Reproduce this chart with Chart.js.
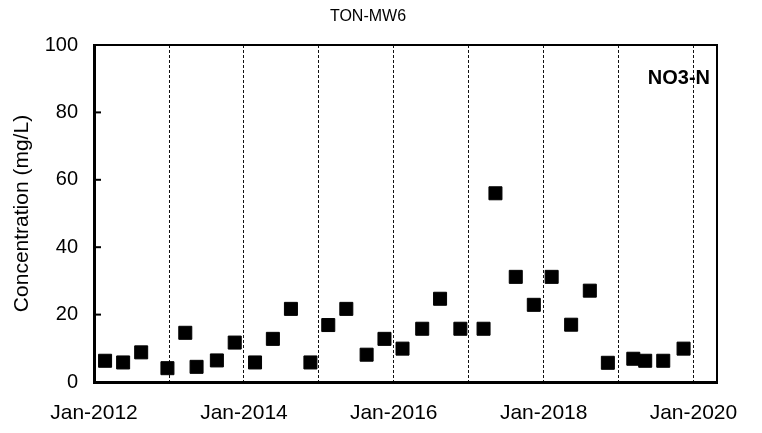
<!DOCTYPE html>
<html>
<head>
<meta charset="utf-8">
<script src="https://cdn.jsdelivr.net/npm/chart.js@4"></script>
<style>
  body { margin: 0; background: #fff; }
  #wrap { width: 762px; height: 433px; }
</style>
</head>
<body>
<div id="wrap"><canvas id="no3-chart"></canvas></div>
<script>
// sample dates and NO3-N concentrations (mg/L)
const sampleDates = [
  '2012-02-24', '2012-05-22', '2012-08-18', '2012-12-24',
  '2013-03-21', '2013-05-15', '2013-08-22', '2013-11-17',
  '2014-02-24', '2014-05-22', '2014-08-18', '2014-11-21',
  '2015-02-16', '2015-05-15', '2015-08-22', '2015-11-17',
  '2016-02-13', '2016-05-19', '2016-08-14', '2016-11-21',
  '2017-03-14', '2017-05-11', '2017-08-18', '2017-11-14',
  '2018-02-09', '2018-05-15', '2018-08-14', '2018-11-10',
  '2019-03-14', '2019-05-11', '2019-08-07', '2019-11-14'
];
const no3n = [
  6.3, 5.8, 8.8, 4.1,
  14.6, 4.5, 6.4, 11.7,
  5.8, 12.8, 21.7, 5.8,
  16.9, 21.7, 8.1, 12.8,
  9.9, 15.8, 24.7, 15.8,
  15.8, 56.0, 31.2, 22.9,
  31.2, 17.0, 27.1, 5.7,
  6.9, 6.3, 6.3, 9.9
];
const tickYears = [2012, 2013, 2014, 2015, 2016, 2017, 2018, 2019, 2020];
const labelYears = [2012, 2014, 2016, 2018, 2020];
const yTicks = [0, 20, 40, 60, 80, 100];

const FONT = '"Liberation Sans", Arial, sans-serif';

// title, frame on top/right, inward y tick marks, NO3-N tag
const frame = {
  id: 'frame',
  afterDraw(chart) {
    const { ctx, chartArea: a, scales } = chart;
    ctx.save();
    ctx.strokeStyle = '#000';
    ctx.lineWidth = 2;
    ctx.beginPath();
    ctx.moveTo(a.left, a.top);
    ctx.lineTo(a.right, a.top);
    ctx.lineTo(a.right, a.bottom);
    ctx.stroke();
    yTicks.forEach(v => {
      const y = scales.y.getPixelForValue(v);
      ctx.beginPath();
      ctx.moveTo(a.left, y);
      ctx.lineTo(a.left + 7, y);
      ctx.stroke();
    });
    ctx.fillStyle = '#000';
    ctx.textBaseline = 'middle';
    ctx.textAlign = 'center';
    ctx.font = '16px ' + FONT;
    ctx.fillText('TON-MW6', 368, 17);
    ctx.font = 'bold 20px ' + FONT;
    ctx.textAlign = 'right';
    ctx.fillText('NO3-N', a.right - 7, a.top + 33);
    ctx.restore();
  }
};

new Chart(document.getElementById('no3-chart'), {
  type: 'scatter',
  data: {
    datasets: [{
      label: 'NO3-N',
      data: sampleDates.map((d, i) => ({ x: Date.parse(d), y: no3n[i] })),
      pointStyle: 'rect',
      pointRadius: 9.2,
      pointHoverRadius: 9.2,
      backgroundColor: '#000',
      borderColor: '#000',
      borderWidth: 1
    }]
  },
  options: {
    responsive: true,
    maintainAspectRatio: false,
    animation: false,
    layout: { padding: { left: 0, right: 45, top: 45, bottom: 0 } },
    plugins: {
      legend: { display: false },
      tooltip: { enabled: false },
      title: { display: false }
    },
    scales: {
      x: {
        type: 'linear',
        min: Date.UTC(2012, 0, 1),
        max: Date.UTC(2020, 3, 25),
        afterBuildTicks: s => { s.ticks = tickYears.map(yr => ({ value: Date.UTC(yr, 0, 1) })); },
        afterFit: s => { s.height = 51; },
        ticks: {
          autoSkip: false,
          maxRotation: 0,
          color: '#000',
          padding: 19,
          font: { family: FONT, size: 21 },
          callback: v => {
            const yr = new Date(v).getUTCFullYear();
            return labelYears.includes(yr) ? 'Jan-' + yr : '';
          }
        },
        grid: {
          display: true,
          drawTicks: false,
          color: '#111',
          lineWidth: 1
        },
        border: { display: true, color: '#000', width: 3, dash: [3, 2] }
      },
      y: {
        min: 0,
        max: 100,
        afterBuildTicks: s => { s.ticks = yTicks.map(v => ({ value: v })); },
        afterFit: s => { s.width = 94; },
        ticks: {
          color: '#000',
          padding: 16,
          font: { family: FONT, size: 20 }
        },
        grid: { drawOnChartArea: false, drawTicks: false },
        border: { display: true, color: '#000', width: 3 },
        title: {
          display: true,
          text: 'Concentration (mg/L)',
          color: '#000',
          font: { family: FONT, size: 21 },
          padding: { top: 10, bottom: 0 }
        }
      }
    }
  },
  plugins: [frame]
});
</script>
</body>
</html>
